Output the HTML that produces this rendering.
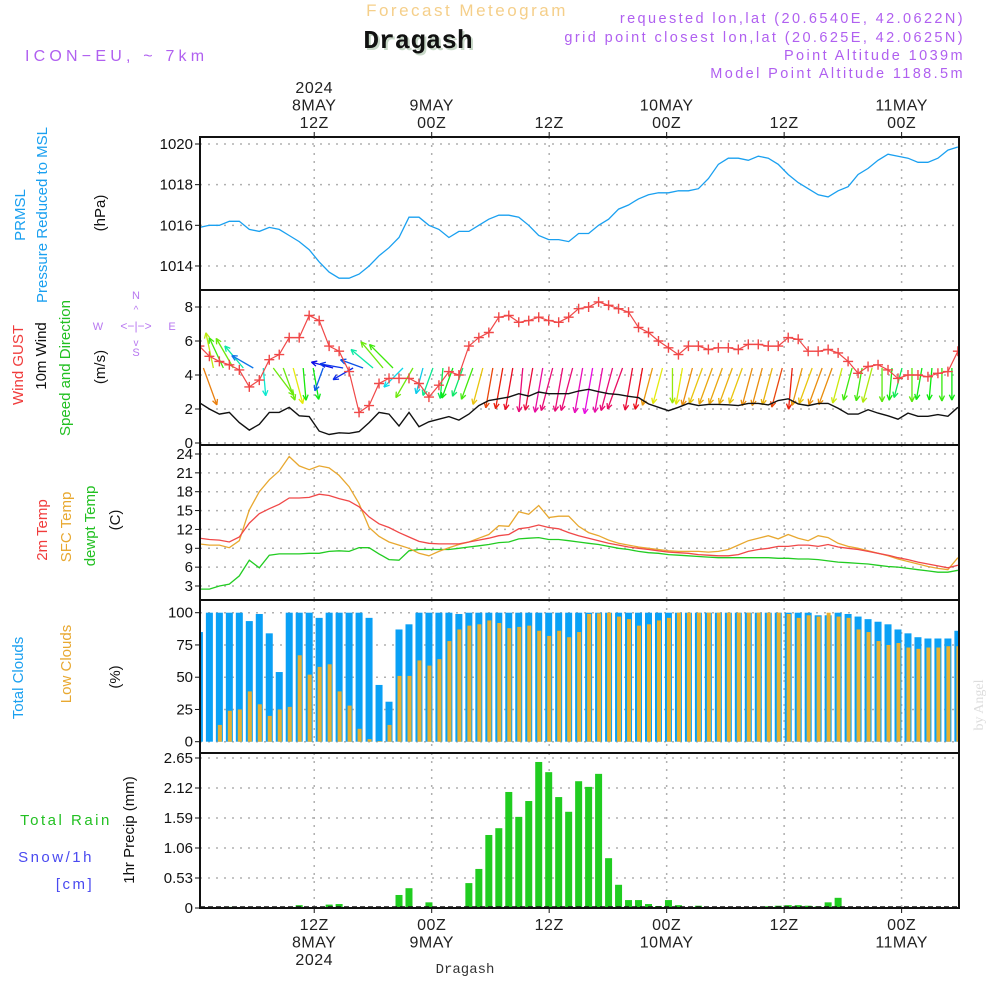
<!DOCTYPE html>
<html><head><meta charset="utf-8"><style>
html,body{margin:0;padding:0;background:#fff}
svg{display:block;font-family:"Liberation Sans",sans-serif}
</style></head><body>
<svg id="chart" width="1000" height="1000" viewBox="0 0 1000 1000" xmlns="http://www.w3.org/2000/svg">
<g>
<text x="467" y="16" font-size="17" fill="#f5cf8a" text-anchor="middle" letter-spacing="2.5">Forecast Meteogram</text>
<text x="418" y="48" font-size="26" font-weight="bold" fill="#111" text-anchor="middle" font-family="Liberation Mono, monospace" style="text-shadow:2px 2px 0 #c8d8c8">Dragash</text>
<text x="25" y="61" font-size="16" fill="#b060f0" letter-spacing="4.2">ICON−EU, ~ 7km</text>
<g font-size="14.5" fill="#b060f0" text-anchor="end" letter-spacing="2.4">
<text x="965" y="23">requested lon,lat (20.6540E, 42.0622N)</text>
<text x="965" y="42">grid point closest lon,lat (20.625E, 42.0625N)</text>
<text x="965" y="60">Point Altitude 1039m</text>
<text x="965" y="78">Model Point Altitude 1188.5m</text>
</g>
</g>
<g id="timelabels" font-size="16" fill="#222" text-anchor="middle" letter-spacing="0.5"></g>
<g id="panels"></g>
<g font-size="15" text-anchor="middle">
<text transform="translate(25,215) rotate(-90)" fill="#1aa0f0">PRMSL</text>
<text transform="translate(47,215) rotate(-90)" fill="#1aa0f0">Pressure Reduced to MSL</text>
<text transform="translate(105,213) rotate(-90)" fill="#111">(hPa)</text>
<text transform="translate(23,365) rotate(-90)" fill="#f03c3c">Wind GUST</text>
<text transform="translate(46,356) rotate(-90)" fill="#111">10m Wind</text>
<text transform="translate(70,368) rotate(-90)" fill="#22c022">Speed and Direction</text>
<text transform="translate(105,367) rotate(-90)" fill="#111">(m/s)</text>
<text transform="translate(47,530) rotate(-90)" fill="#f03c3c">2m Temp</text>
<text transform="translate(71,527) rotate(-90)" fill="#e8a830">SFC Temp</text>
<text transform="translate(95,526) rotate(-90)" fill="#22c022">dewpt Temp</text>
<text transform="translate(120,520) rotate(-90)" fill="#111">(C)</text>
<text transform="translate(23,678) rotate(-90)" fill="#1aa0f0">Total Clouds</text>
<text transform="translate(71,664) rotate(-90)" fill="#e8a830">Low Clouds</text>
<text transform="translate(120,677) rotate(-90)" fill="#111">(%)</text>
<text transform="translate(134,830) rotate(-90)" fill="#111">1hr Precip (mm)</text>
<text x="66" y="825" fill="#22c022" letter-spacing="2.5">Total  Rain</text>
<text x="56" y="862" fill="#4a4af0" letter-spacing="2.5">Snow/1h</text>
<text x="75" y="889" fill="#4a4af0" letter-spacing="2.5">[cm]</text>
<g fill="#b878f0" font-size="11">
<text x="136" y="299">N</text><text x="136" y="356">S</text><text x="98" y="330">W</text><text x="172" y="330">E</text>
<text x="136" y="330" font-size="12">&lt;−|−&gt;</text>
<text x="136" y="313" font-size="10">^</text><text x="136" y="346" font-size="10">v</text>
</g>
<text transform="translate(983,705) rotate(-90)" fill="#ddd" font-family="Liberation Serif,serif" font-size="14">by Angel</text>
<text x="465" y="973" fill="#333" font-family="Liberation Mono,monospace" font-size="14">Dragash</text>
</g>
</svg>
<script>
const pressure=[1015.9,1016.0,1016.0,1016.2,1016.2,1015.8,1015.7,1015.9,1015.8,1015.5,1015.2,1014.8,1014.2,1013.7,1013.4,1013.4,1013.6,1014.0,1014.5,1014.9,1015.4,1016.4,1016.4,1016.0,1015.8,1015.4,1015.7,1015.7,1016.0,1016.3,1016.5,1016.5,1016.4,1016.0,1015.5,1015.3,1015.3,1015.2,1015.6,1015.6,1016.0,1016.3,1016.8,1017.0,1017.3,1017.5,1017.6,1017.6,1017.7,1017.7,1017.8,1018.3,1019.0,1019.3,1019.3,1019.2,1019.4,1019.3,1019.0,1018.5,1018.1,1017.8,1017.5,1017.4,1017.7,1017.9,1018.5,1018.8,1019.2,1019.5,1019.4,1019.3,1019.1,1019.1,1019.3,1019.7,1019.85];
const gust=[5.7,5.1,4.8,4.6,4.3,3.3,3.7,4.9,5.2,6.2,6.2,7.5,7.2,5.7,5.4,4.2,1.8,2.2,3.5,3.8,3.8,3.8,3.5,2.7,3.4,4.2,4.0,5.7,6.2,6.5,7.4,7.5,7.1,7.2,7.4,7.2,7.1,7.4,7.9,8.0,8.3,8.1,7.9,7.7,6.8,6.5,6.0,5.6,5.2,5.7,5.7,5.5,5.6,5.6,5.5,5.8,5.8,5.7,5.7,6.2,6.1,5.4,5.4,5.5,5.3,4.8,4.1,4.5,4.6,4.3,3.8,4.0,4.0,3.9,4.1,4.2,5.4];
const wind=[2.37,2.0,1.7,1.8,1.2,0.76,1.1,1.8,1.8,2.1,1.6,1.55,0.7,0.5,0.6,0.57,0.67,1.2,1.8,1.7,1.0,1.8,0.96,1.25,1.4,1.55,1.35,1.7,2.2,2.5,2.6,2.7,2.9,2.76,3.0,2.9,2.9,2.9,3.06,3.16,3.02,2.9,2.85,2.75,2.67,2.3,2.1,1.9,2.1,2.33,2.2,2.27,2.27,2.25,2.2,2.33,2.33,2.24,2.5,2.6,2.3,2.2,2.33,2.33,2.04,1.7,1.7,1.96,1.76,1.6,1.4,1.76,1.57,1.57,1.67,1.57,2.1];
const windBearing=[160,348,335,330,320,300,175,143,160,165,175,170,200,285,280,240,290,310,320,315,225,210,195,200,185,200,200,200,195,190,190,190,185,190,190,195,190,195,190,190,190,195,200,190,190,195,195,180,190,195,200,200,200,200,200,195,195,195,195,185,195,200,200,200,195,195,190,195,180,185,195,180,190,185,180,180,180];
const temp2m=[10.6,10.4,10.3,10.0,10.8,13.0,14.5,15.3,16.0,17.0,17.0,17.1,17.6,17.4,16.9,16.5,15.6,14.0,12.9,12.3,11.5,10.8,10.1,9.8,9.7,9.7,9.7,10.0,10.3,10.6,11.0,11.2,12.1,12.3,12.7,12.3,12.1,11.5,11.0,10.6,10.2,9.8,9.5,9.2,9.0,8.8,8.6,8.4,8.3,8.2,8.0,7.9,7.8,7.8,8.0,8.5,8.8,9.0,9.3,9.3,9.5,9.5,9.3,9.6,9.2,9.0,8.8,8.5,8.2,7.9,7.5,7.2,6.8,6.5,6.2,5.9,6.3];
const tempSfc=[9.7,9.5,9.5,9.1,10.2,15.1,18.0,19.9,21.3,23.6,22.1,21.5,22.1,21.8,20.6,18.8,16.1,12.3,10.9,10.0,9.5,9.0,8.2,7.8,8.5,9.1,9.6,10.0,10.6,11.2,12.6,12.5,14.8,14.4,15.8,13.9,14.1,14.1,12.5,11.5,11.0,10.3,9.8,9.5,9.2,9.0,8.8,8.6,8.5,8.5,8.5,8.4,8.5,8.8,9.5,10.2,10.6,11.0,10.5,11.2,10.6,10.2,11.0,10.7,9.8,9.3,9.0,8.6,8.2,7.8,7.3,6.9,6.5,6.1,5.8,5.6,7.5];
const dewpt=[2.5,2.5,3.0,3.3,4.6,7.1,5.9,7.9,8.1,8.1,8.1,8.2,8.2,8.5,8.6,8.5,9.1,9.1,8.1,7.2,7.1,8.6,8.8,8.8,8.8,8.8,9.0,9.2,9.4,9.6,9.9,10.0,10.5,10.6,10.7,10.4,10.4,10.2,10.0,9.8,9.6,9.3,9.0,8.8,8.5,8.3,8.2,8.0,7.9,7.8,7.7,7.6,7.5,7.5,7.5,7.5,7.5,7.5,7.4,7.4,7.3,7.3,7.2,7.0,6.8,6.7,6.6,6.5,6.3,6.1,6.0,5.8,5.6,5.4,5.2,5.2,5.5];
const totalClouds=[85,100,100,100,100,93.5,99,84,54,100,100,100,96,100,100,100,100,96,44,31,87,91,100,100,100,100,99,100,100,100,100,100,100,100,100,100,100,100,100,100,100,100,100,100,100,100,100,100,100,100,100,100,100,100,100,100,100,100,100,100,100,100,98,98,100,99,97,95,93,91,87,84,81,80,80,80,86];
const lowClouds=[0,0,13,24,25,39,29,20,25,27,67,52,58,60,39,28,10,2,0.5,13,51,51,63,59,64,78,87,90,91,94,92,88,89,90,86,82,86,81,85,99,99.5,100,97,95,90,91,94,96,100,100,100,100,100,100,100,100,100,100,100,99,96,98,97,100,97,96,87,85,78,75,76.5,73,72,73,73,74,74];
const precip=[0,0,0,0.02,0,0,0,0,0,0,0.05,0,0,0.06,0.07,0,0,0,0,0,0.23,0.35,0,0.1,0,0,0,0.44,0.69,1.29,1.41,2.05,1.61,1.89,2.58,2.40,1.96,1.70,2.24,2.14,2.37,0.88,0.41,0.14,0.14,0.07,0.035,0.14,0.05,0,0.04,0,0,0,0,0,0,0.03,0.04,0.05,0.05,0.04,0.03,0.1,0.18,0,0,0,0,0,0,0,0,0,0,0,0];
const pressTicks=[1014,1016,1018,1020];
const windTicks=[0,2,4,6,8];
const tempTicks=[3,6,9,12,15,18,21,24];
const cloudTicks=[0,25,50,75,100];
const precipTicks=[0,0.53,1.06,1.59,2.12,2.65];
const topTimeLabels=[["2024","8MAY","12Z"],["9MAY","00Z"],["12Z"],["10MAY","00Z"],["12Z"],["11MAY","00Z"]];
const bottomTimeLabels=[["12Z","8MAY","2024"],["00Z","9MAY"],["12Z"],["00Z","10MAY"],["12Z"],["00Z","11MAY"]];
const gridHours=[12,24,36,48,60,72];

const NS="http://www.w3.org/2000/svg";
const X0=200,X1=959;
function xi(i){return 199.4+i*9.98;}
function xh(h){return 431.7+(h-24)*9.79;}
function mk(tag,attrs,parent){const e=document.createElementNS(NS,tag);for(const k in attrs)e.setAttribute(k,attrs[k]);parent.appendChild(e);return e;}
const svg=document.getElementById('chart');
const panelsG=document.getElementById('panels');
const panels=[
 {name:'pressure',top:137,bot:290,y:v=>144+(1020-v)*20.33,ticks:pressTicks,fmt:v=>v},
 {name:'wind',top:290,bot:445,y:v=>443-v*17,ticks:windTicks,fmt:v=>v},
 {name:'temp',top:445,bot:600,y:v=>586-(v-3)*6.286,ticks:tempTicks,fmt:v=>v},
 {name:'clouds',top:600,bot:753,y:v=>741.7-v*1.29,ticks:cloudTicks,fmt:v=>v},
 {name:'precip',top:753,bot:908,y:v=>908-v*56.6,ticks:precipTicks,fmt:v=>v===0?'0':v.toFixed(2)}
];
const defs=mk('defs',{},svg);
panels.forEach((p,k)=>{
 const cp=mk('clipPath',{id:'clip'+k},defs);
 mk('rect',{x:X0,y:p.top,width:X1-X0,height:p.bot-p.top},cp);
 const g=mk('g',{},panelsG);
 
 
 p.g=g;
 const grid=mk('g',{stroke:'#b0b0b0','stroke-width':'1.5','stroke-dasharray':'2,6'},g);
 
 
 p.ticks.forEach(t=>{const y=p.y(t);mk('line',{x1:X0,x2:X1,y1:y,y2:y},grid);
  const tl=mk('text',{x:193,y:y+5,'text-anchor':'end','font-size':'15',fill:'#111'},g);
  tl.textContent=p.fmt(t);
  
  
  mk('line',{x1:X0-5,x2:X0,y1:y,y2:y,stroke:'#111','stroke-width':'1'},g);
 });
 gridHours.forEach(h=>{mk('line',{x1:xh(h),x2:xh(h),y1:p.top,y2:p.bot},grid);});
 p.data=mk('g',{'clip-path':'url(#clip'+k+')'},g);
});
function line(p,arr,color,name,w){
 const pts=arr.map((v,i)=>xi(i).toFixed(1)+','+p.y(v).toFixed(1)).join(' ');
 const l=mk('polyline',{points:pts,fill:'none',stroke:color,'stroke-width':w||1.3},p.data);
 
 
 return l;
}
line(panels[0],pressure,'#1aa0f0','pressure-line');
const pw=panels[1];
const arrowsG=mk('g',{'stroke-width':'1.3',fill:'none'},pw.data);


windBearing.forEach((b,i)=>{
 const s=wind[i];
 const hue=((240-(s-0.5)*112)+360)%360;
 const col='hsl('+hue.toFixed(0)+',90%,48%)';
 const len=18+s*9;
 const bx=xi(i)+4,by=368;
 const r=b*Math.PI/180;
 const tx=bx+Math.sin(r)*len,ty=by-Math.cos(r)*len;
 const a=mk('g',{stroke:col},arrowsG);
 
 
 mk('line',{x1:bx,y1:by,x2:tx,y2:ty},a);
 const ang=Math.atan2(ty-by,tx-bx);
 [0.45,-0.45].forEach(d=>{mk('line',{x1:tx,y1:ty,x2:tx-6*Math.cos(ang+d),y2:ty-6*Math.sin(ang+d)},a);});
});
line(pw,wind,'#111','wind-speed-line',1.4);
line(pw,gust,'#f04848','gust-line',1.2);
const gm=mk('g',{stroke:'#f04848','stroke-width':'1.4'},pw.data);


gust.forEach((v,i)=>{const x=xi(i),y=pw.y(v);
 const m=mk('path',{d:`M${x-5},${y}h10M${x},${y-5}v10`},gm);
 
 });
const pt=panels[2];
line(pt,dewpt,'#22cc22','dewpoint-line');
line(pt,tempSfc,'#e8a830','sfc-temp-line');
line(pt,temp2m,'#f04848','temp-2m-line');
const pc=panels[3];
totalClouds.forEach((v,i)=>{const x=xi(i);
 const b=mk('rect',{x:x-3.5,y:pc.y(v),width:7,height:pc.y(0)-pc.y(v),fill:'#0aa0f5'},pc.data);
 
 
 const l=lowClouds[i];
 const o=mk('rect',{x:x-1.5,y:pc.y(l),width:4,height:pc.y(0)-pc.y(l),fill:'#e8b030'},pc.data);
 
 
});
const pp=panels[4];
precip.forEach((v,i)=>{if(v<=0)return;const x=xi(i);
 const b=mk('rect',{x:x-3.5,y:pp.y(v),width:7,height:pp.y(0)-pp.y(v),fill:'#20cc20'},pp.data);
 
 });
mk('line',{x1:X0,x2:X1,y1:907,y2:907,stroke:'#111','stroke-width':'1.5','stroke-dasharray':'5,3'},pp.data);
panels.forEach(p=>{
 const r=mk('rect',{x:X0,y:p.top,width:X1-X0,height:p.bot-p.top,fill:'none',stroke:'#111','stroke-width':'2'},p.g);
 
 
});
const tg=document.getElementById('timelabels');
gridHours.forEach((h,k)=>{const x=xh(h);
 const top=topTimeLabels[k];
 top.forEach((s,j)=>{const t=mk('text',{x:x,y:128-(top.length-1-j)*17.5},tg);t.textContent=s;
  
  });
 mk('line',{x1:x,x2:x,y1:132,y2:137,stroke:'#111'},tg);
 mk('line',{x1:x,x2:x,y1:908,y2:913,stroke:'#111'},tg);
 bottomTimeLabels[k].forEach((s,j)=>{const t=mk('text',{x:x,y:930+j*17.5},tg);t.textContent=s;
  
  });
});
</script>
</body></html>
